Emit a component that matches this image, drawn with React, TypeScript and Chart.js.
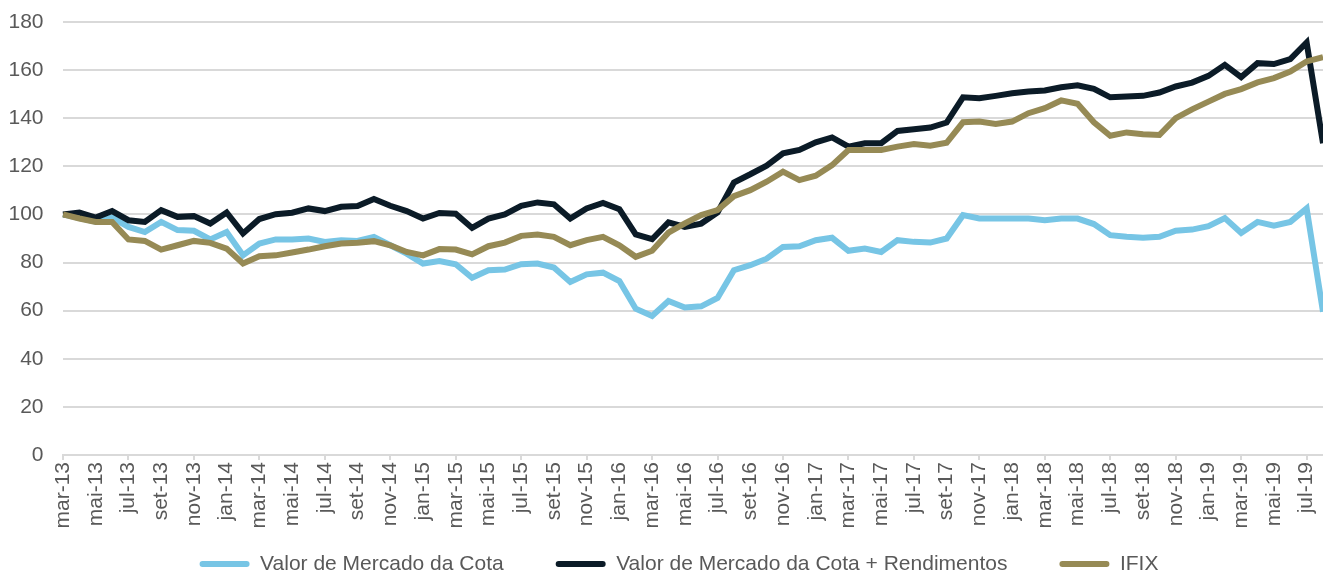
import React, { useEffect, useRef } from 'react';
import { Chart, registerables } from 'chart.js';

Chart.register(...registerables);

const categories = [
  'mar-13', 'abr-13', 'mai-13', 'jun-13', 'jul-13', 'ago-13', 'set-13', 'out-13', 'nov-13', 'dez-13',
  'jan-14', 'fev-14', 'mar-14', 'abr-14', 'mai-14', 'jun-14', 'jul-14', 'ago-14', 'set-14', 'out-14', 'nov-14', 'dez-14',
  'jan-15', 'fev-15', 'mar-15', 'abr-15', 'mai-15', 'jun-15', 'jul-15', 'ago-15', 'set-15', 'out-15', 'nov-15', 'dez-15',
  'jan-16', 'fev-16', 'mar-16', 'abr-16', 'mai-16', 'jun-16', 'jul-16', 'ago-16', 'set-16', 'out-16', 'nov-16', 'dez-16',
  'jan-17', 'fev-17', 'mar-17', 'abr-17', 'mai-17', 'jun-17', 'jul-17', 'ago-17', 'set-17', 'out-17', 'nov-17', 'dez-17',
  'jan-18', 'fev-18', 'mar-18', 'abr-18', 'mai-18', 'jun-18', 'jul-18', 'ago-18', 'set-18', 'out-18', 'nov-18', 'dez-18',
  'jan-19', 'fev-19', 'mar-19', 'abr-19', 'mai-19', 'jun-19', 'jul-19', 'ago-19',
];

const seriesNames = [
  'Valor de Mercado da Cota',
  'Valor de Mercado da Cota + Rendimentos',
  'IFIX',
];

const valorCota = [
  100.0, 98.5, 97.0, 98.7, 94.8, 92.7, 96.9, 93.5, 93.2, 89.6,
  92.7, 83.0, 87.9, 89.6, 89.6, 90.0, 88.6, 89.3, 89.0, 90.7, 87.2, 83.7,
  79.6, 80.6, 79.3, 73.7, 76.8, 77.1, 79.3, 79.6, 77.9, 71.9, 75.1, 75.8,
  72.3, 60.8, 57.8, 64.0, 61.3, 61.8, 65.3, 76.8, 78.9, 81.6, 86.5, 86.8,
  89.3, 90.3, 84.9, 85.8, 84.4, 89.3, 88.6, 88.3, 90.0, 99.7, 98.3, 98.3,
  98.3, 98.3, 97.6, 98.3, 98.3, 96.0, 91.4, 90.7, 90.3, 90.7, 93.2, 93.7,
  95.1, 98.5, 92.3, 96.9, 95.3, 96.9, 102.5, 59.5,
];

const valorCotaRendimentos = [
  100.0, 100.8, 98.7, 101.4, 97.6, 96.9, 101.8, 99.0, 99.3, 96.2,
  100.8, 92.1, 98.1, 100.1, 100.7, 102.5, 101.4, 103.2, 103.5, 106.4, 103.6, 101.4,
  98.3, 100.6, 100.3, 94.4, 98.3, 100.0, 103.6, 105.0, 104.2, 98.3, 102.5, 104.8,
  102.2, 91.7, 89.7, 96.7, 94.8, 96.2, 100.8, 113.3, 116.7, 120.3, 125.4, 126.8,
  130.0, 132.0, 128.2, 129.6, 129.6, 134.7, 135.4, 136.1, 138.2, 148.7, 148.3, 149.3,
  150.4, 151.1, 151.5, 152.9, 153.7, 152.2, 148.7, 149.0, 149.3, 150.7, 153.2, 154.8,
  157.6, 162.2, 157.1, 162.9, 162.5, 164.6, 171.5, 129.6,
];

const ifix = [
  100.0, 98.3, 96.9, 96.9, 89.6, 89.0, 85.4, 87.2, 89.0, 88.2,
  85.8, 79.6, 82.6, 83.0, 84.2, 85.4, 86.8, 87.9, 88.2, 88.9, 87.2, 84.4,
  83.0, 85.6, 85.4, 83.4, 86.8, 88.3, 91.1, 91.7, 90.7, 87.2, 89.3, 90.7,
  87.2, 82.4, 84.9, 92.4, 96.3, 99.7, 101.8, 107.6, 110.1, 113.6, 117.8, 114.3,
  116.1, 120.5, 126.8, 126.8, 126.8, 128.2, 129.3, 128.6, 129.8, 138.3, 138.6, 137.6,
  138.6, 142.1, 144.2, 147.4, 146.0, 138.3, 132.7, 134.1, 133.3, 133.0, 140.0, 143.7,
  146.9, 150.1, 152.1, 154.9, 156.7, 159.4, 163.6, 165.4,
];

const seriesColors = ['#77C5E5', '#0B1B27', '#968A55'];

const Y_MIN = 0;
const Y_MAX = 180;
const Y_STEP = 20;

const LEGEND_PAD = 52;
const LEGEND_FONT = 21;
const LEGEND_CENTER_Y = 564;
const LEGEND_LEFT = 35;

const legendPlacer = {
  id: 'legendPlacer',
  afterLayout(chart: any) {
    const lg = chart.legend;
    if (!lg) return;
    const h = lg.height;
    lg.left = LEGEND_LEFT;
    lg.top = LEGEND_CENTER_Y - LEGEND_PAD - LEGEND_FONT / 2;
    lg.bottom = lg.top + h;
  },
};

export default function App() {
  const canvasRef = useRef<HTMLCanvasElement | null>(null);

  useEffect(() => {
    const canvas = canvasRef.current;
    if (!canvas) return;
    const gridColor = '#d9d9d9';
    const textColor = '#595959';
    const font = { family: "'Liberation Sans', Arial, sans-serif", size: 21 };
    const seriesData = [valorCota, valorCotaRendimentos, ifix];

    const chart = new Chart(canvas, {
      type: 'line',
      data: {
        labels: categories,
        datasets: seriesData.map((d, i) => ({
          label: seriesNames[i],
          data: d,
          borderColor: seriesColors[i],
          backgroundColor: seriesColors[i],
          borderWidth: 6,
          pointRadius: 0,
          pointHoverRadius: 0,
          tension: 0,
          fill: false,
          order: 3 - i,
        })),
      },
      plugins: [legendPlacer],
      options: {
        responsive: false,
        animation: false,
        events: [],
        layout: { padding: { top: 22, left: 0, right: 0, bottom: -(LEGEND_PAD + LEGEND_FONT + 10) + (573 - 455 - 80) } },
        plugins: {
          tooltip: { enabled: false },
          legend: {
            display: true,
            position: 'bottom',
            labels: {
              boxWidth: 50,
              boxHeight: 6,
              padding: LEGEND_PAD,
              color: textColor,
              font: { family: font.family, size: LEGEND_FONT },
              useBorderRadius: true,
              borderRadius: 3,
              sort: (a: any, b: any) => a.datasetIndex - b.datasetIndex,
              generateLabels: (c: any) =>
                (Chart.defaults as any).plugins.legend.labels
                  .generateLabels(c)
                  .map((l: any) => ({ ...l, lineWidth: 0, fillStyle: l.strokeStyle })),
            },
          },
        },
        scales: {
          x: {
            offset: false,
            grid: {
              display: true,
              drawOnChartArea: false,
              drawTicks: true,
              tickLength: 5,
              lineWidth: 2,
              color: (c: any) => (c.index % 2 === 0 ? gridColor : 'rgba(0,0,0,0)'),
            },
            border: { display: true, color: gridColor, width: 2 },
            ticks: {
              autoSkip: false,
              minRotation: 90,
              maxRotation: 90,
              padding: 2,
              color: textColor,
              font,
              callback: (_v: any, i: number) => (i % 2 === 0 ? categories[i] : null),
            },
            afterFit: (s: any) => {
              s.height = 80;
              s.paddingLeft = 0;
              s.paddingRight = 0;
            },
          },
          y: {
            min: Y_MIN,
            max: Y_MAX,
            ticks: { stepSize: Y_STEP, padding: 19.5, color: textColor, font },
            grid: { color: gridColor, lineWidth: 2, drawTicks: false },
            border: { display: false },
            afterFit: (s: any) => {
              s.width = 63;
              s.paddingTop = 0;
              s.paddingBottom = 0;
            },
          },
        },
      },
    });
    return () => chart.destroy();
  }, []);

  return (
    <div style={{ position: 'fixed', left: 0, top: 0, width: 1323, height: 573, background: '#ffffff', overflow: 'hidden' }}>
      <canvas ref={canvasRef} width={1323} height={573} style={{ display: 'block' }} />
    </div>
  );
}
